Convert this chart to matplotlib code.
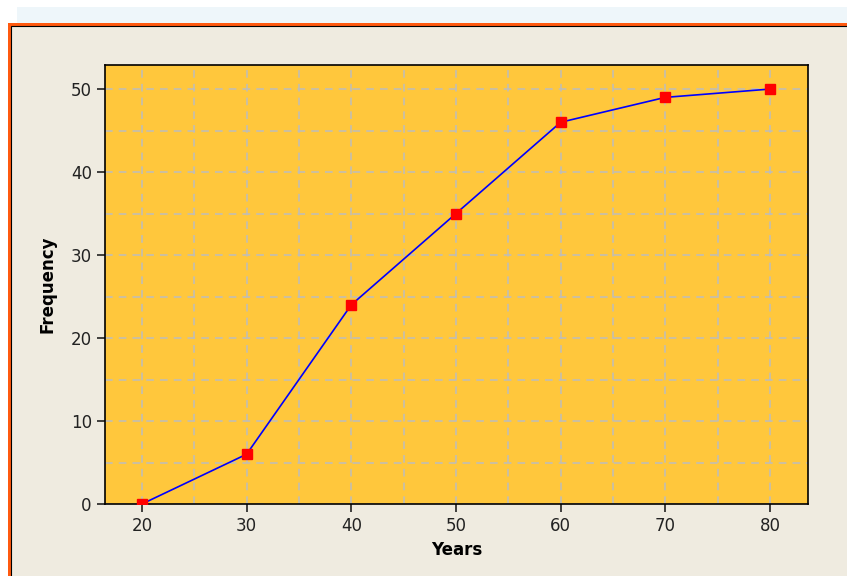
import matplotlib
matplotlib.use("Agg")
import matplotlib.pyplot as plt
from matplotlib.patches import Rectangle

years = [20, 30, 40, 50, 60, 70, 80]
frequency = [0, 6, 24, 35, 46, 49, 50]
x_ticks = [20, 30, 40, 50, 60, 70, 80]
y_ticks = [0, 10, 20, 30, 40, 50]

W, H = 847, 576
fig = plt.figure(figsize=(W / 100, H / 100), dpi=100)
fig.patch.set_facecolor("white")

def px(x0, y0, x1, y1):
    return (x0 / W, 1 - y1 / H), (x1 - x0) / W, (y1 - y0) / H

# light blue top band
xy, w, h = px(17, 7, 847, 23)
fig.patches.append(Rectangle(xy, w, h, transform=fig.transFigure, facecolor="#EEF6FA", edgecolor="none", zorder=-10))
# orange outer frame
xy, w, h = px(8, 23, 860, 590)
fig.patches.append(Rectangle(xy, w, h, transform=fig.transFigure, facecolor="#FF5A10", edgecolor="none", zorder=-10))
# panel with black thin border
xy, w, h = px(10.5, 26, 860, 590)
fig.patches.append(Rectangle(xy, w, h, transform=fig.transFigure, facecolor="#EFEBE0", edgecolor="black", linewidth=0.8, zorder=-9))

l, t, r, b = 105, 65, 808, 504
ax = fig.add_axes([l / W, 1 - b / H, (r - l) / W, (b - t) / H])
ax.set_zorder(5)
ax.set_facecolor("#FFC73C")
ax.plot(years, frequency, color="#0000FF", linewidth=1.2, zorder=3)
ax.plot(years, frequency, linestyle="none", marker="s", markersize=7.5,
        markerfacecolor="#FF0000", markeredgecolor="#FF0000", zorder=4)

ax.set_xticks(x_ticks)
ax.set_yticks(y_ticks)
ax.set_xticks(range(20, 85, 5), minor=True)
ax.set_yticks(range(0, 55, 5), minor=True)
ax.set_xlim(16.47, 83.63)
ax.set_ylim(0, 52.9)
ax.tick_params(axis="both", which="major", direction="out", length=6, width=1.2, labelsize=12, colors="#222222")
ax.tick_params(axis="both", which="minor", length=0)
ax.grid(True, which="both", color="#BDBDBD", linestyle=(0, (5, 4)), linewidth=1.1, zorder=1)
ax.set_axisbelow(True)
for s in ax.spines.values():
    s.set_linewidth(1.2)
    s.set_color("black")

ax.set_xlabel("Years", fontsize=12, fontweight="bold", labelpad=4)
ax.set_ylabel("Frequency", fontsize=12, fontweight="bold", labelpad=10)

fig.savefig("out.png", dpi=100)
